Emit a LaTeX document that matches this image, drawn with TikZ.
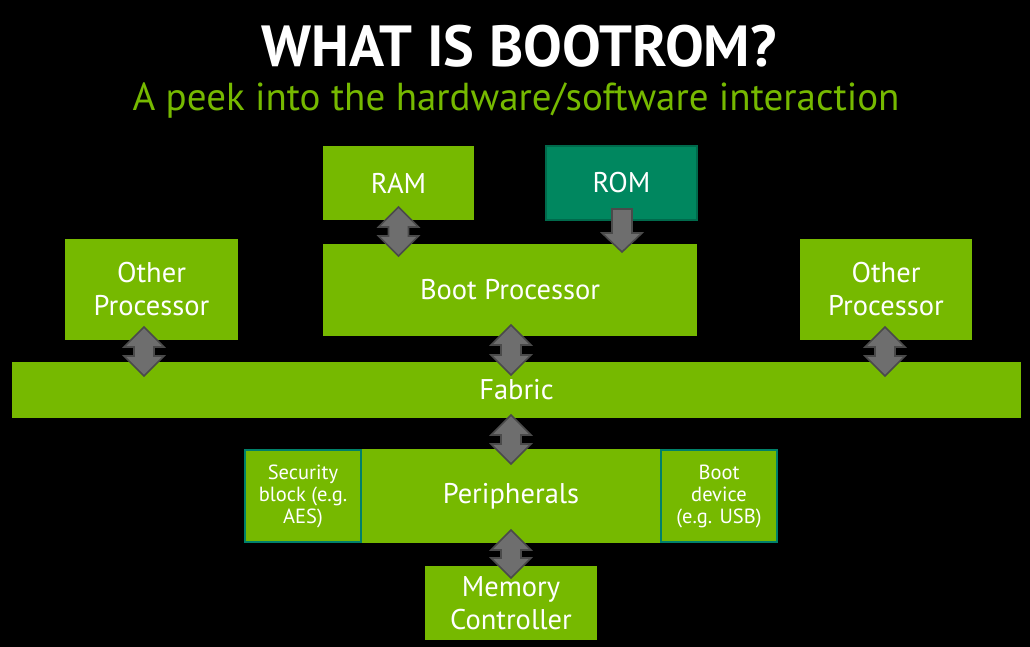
\documentclass[tikz,border=0pt]{standalone}
\usepackage{fontspec}
\setmainfont{PT Sans}
\usetikzlibrary{calc}
\definecolor{nvgreen}{HTML}{76B900}
\definecolor{romteal}{HTML}{00875F}
\definecolor{romedge}{HTML}{006A4C}
\definecolor{secedge}{HTML}{00806A}
\definecolor{arrfill}{HTML}{6E6E6E}
\definecolor{arredge}{HTML}{4A4A4A}
\tikzset{
  box/.style={fill=nvgreen, draw=none, inner sep=0pt, outer sep=0pt, text=white, align=center, font=\fontsize{28.5}{33}\selectfont},
  tealbox/.style={box, fill=romteal, draw=romedge, line width=2pt},
  subbox/.style={box, draw=secedge, line width=2pt, font=\fontsize{20.5}{22}\selectfont},
  garrow/.style={fill=arrfill, draw=arredge, line width=1.6pt, line join=miter},
}
\newcommand\bidir[2]{%
  \draw[garrow] let \p1=#1, \p2=#2 in
    (\x1,\y1) -- (\x1+20pt,\y1-20pt) -- (\x1+10pt,\y1-20pt) -- (\x1+10pt,\y2+20pt)
    -- (\x1+20pt,\y2+20pt) -- (\x1,\y2) -- (\x1-20pt,\y2+20pt) -- (\x1-10pt,\y2+20pt)
    -- (\x1-10pt,\y1-20pt) -- (\x1-20pt,\y1-20pt) -- cycle;}
\newcommand\downarr[2]{%
  \draw[garrow] let \p1=#1, \p2=#2 in
    (\x1-10pt,\y1) -- (\x1+10pt,\y1) -- (\x1+10pt,\y2+19pt) -- (\x1+20pt,\y2+19pt)
    -- (\x1,\y2) -- (\x1-20pt,\y2+19pt) -- (\x1-10pt,\y2+19pt) -- cycle;}
\begin{document}
\begin{tikzpicture}[x=1pt,y=-1pt]
\fill[black] (0,0) rectangle (1030,647);
\useasboundingbox (0,0) rectangle (1030,647);
% titles
\node[text=white, font=\bfseries\fontsize{58}{62}\selectfont] (title) at (519,46) {WHAT IS BOOTROM?};
\node[text=nvgreen, font=\fontsize{39}{44}\selectfont] (sub) at (516,101) {A peek into the hardware/software interaction};
% boxes
\node[box, minimum width=151pt, minimum height=74pt] (ram) at (398.5,183) {RAM};
\node[tealbox, minimum width=151pt, minimum height=74pt] (rom) at (621.5,183) {ROM};
\node[box, minimum width=374pt, minimum height=92pt] (boot) at (510,290) {Boot Processor};
\node[box, minimum width=173pt, minimum height=101pt] (op1) at (151.5,289.5) {Other\\Processor};
\node[box, minimum width=172pt, minimum height=101pt] (op2) at (886,289.5) {Other\\Processor};
\node[box, minimum width=1009pt, minimum height=56pt] (fabric) at (516.5,390) {Fabric};
\node[box, minimum width=534pt, minimum height=94pt] (periph) at (511,496) {Peripherals};
\node[subbox, minimum width=116pt, minimum height=92pt] (sec) at (303,496) {Security\\block (e.g.\\AES)};
\node[subbox, minimum width=116pt, minimum height=92pt] (bdev) at (719,496) {Boot\\device\\(e.g. USB)};
\node[box, minimum width=172pt, minimum height=74pt] (mem) at (511,603) {Memory\\Controller};
% arrows
\bidir{($(ram.south)+(0,-13)$)}{($(boot.north)+(0,12)$)}
\downarr{($(rom.south)+(0.5,-11)$)}{($(boot.north)+(0.5,8)$)}
\bidir{($(boot.south)+(1,-11)$)}{($(fabric.north)+(0,13)$)}
\bidir{($(op1.south)+(-7.5,-13)$)}{($(fabric.north)+(0,14)$)}
\bidir{($(op2.south)+(-1,-13)$)}{($(fabric.north)+(0,14)$)}
\bidir{($(fabric.south)+(-5.5,-3)$)}{($(periph.north)+(0,15)$)}
\bidir{($(periph.south)+(0,-13)$)}{($(mem.north)+(0,12)$)}
\end{tikzpicture}
\end{document}
